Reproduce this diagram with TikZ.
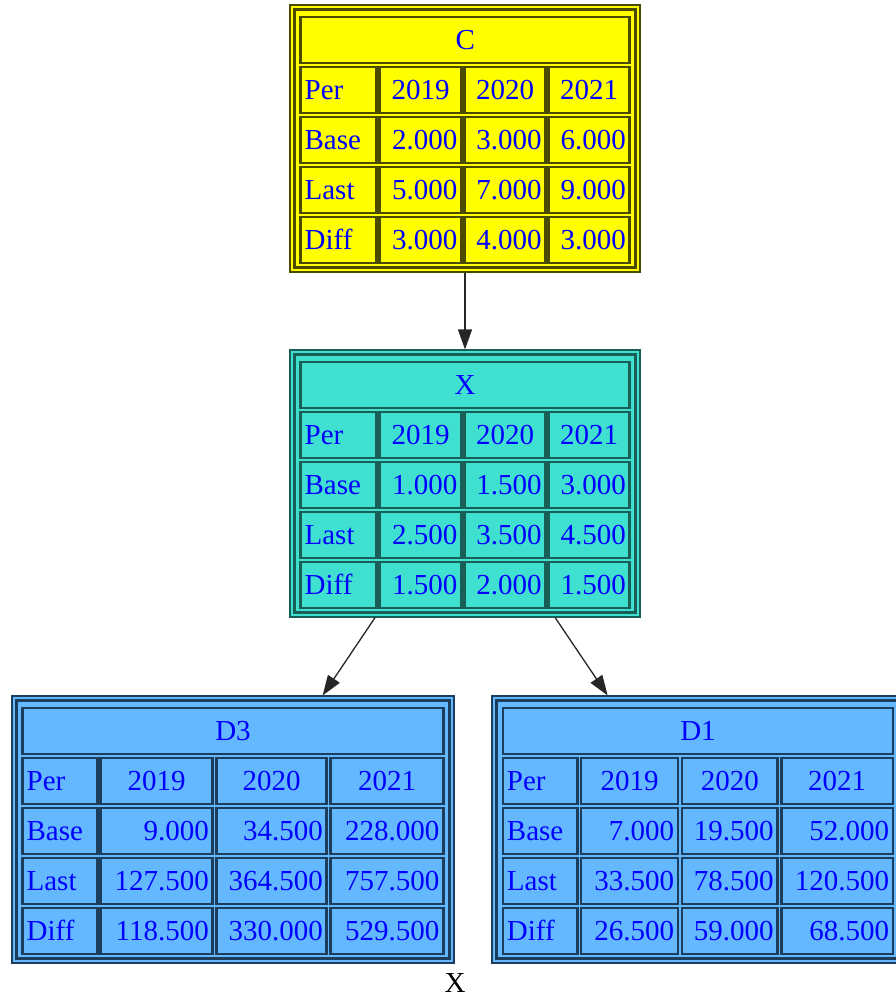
\documentclass[tikz,border=0pt]{standalone}
\usepackage{fontspec}
\setmainfont{Liberation Serif}
\usetikzlibrary{arrows.meta}

\definecolor{fillC}{HTML}{FFFF00}
\definecolor{edgeC}{HTML}{4A4A00}
\definecolor{fillX}{HTML}{40E0D0}
\definecolor{edgeX}{HTML}{1A5E58}
\definecolor{fillD}{HTML}{63B8FF}
\definecolor{edgeD}{HTML}{1D3D5C}
\definecolor{txtblue}{HTML}{0000FF}

\tikzset{
  tblbox/.style={rectangle, inner sep=0pt, line width=1.2pt, minimum height=267pt},
  cellbox/.style={rectangle, inner sep=0pt, line width=2.5pt, minimum height=46pt},
  celltext/.style={inner sep=0pt, text=txtblue, font=\fontsize{29}{34}\selectfont,
                   text height=19pt, text depth=0pt},
  edgearrow/.style={line width=1.3pt, draw=black!85, -{Triangle[length=20pt,width=14pt]}},
  glabel/.style={inner sep=0pt, text=black, font=\fontsize{29}{34}\selectfont}
}

% column bounds of the current table
\newcommand\gvcols[8]{\def\gvAl{#1}\def\gvAr{#2}\def\gvBl{#3}\def\gvBr{#4}%
  \def\gvCl{#5}\def\gvCr{#6}\def\gvDl{#7}\def\gvDr{#8}}
% colours of the current table
\def\gvfill{fillC}\def\gvedge{edgeC}

% one cell: name, left, right, top, text anchor, x offset, text
\newcommand\gvcell[7]{%
  \pgfmathsetmacro\gvw{#3-#2}%
  \pgfmathsetmacro\gvcx{(#2+#3)/2}%
  \pgfmathsetmacro\gvcy{#4+23}%
  \node[cellbox, fill=\gvfill, draw=\gvedge, minimum width=\gvw pt] (#1) at (\gvcx,\gvcy) {};
  \node[celltext, anchor=#5] (#1-t) at ([xshift=#6pt]#1.#5) {#7};
}

% one row: table, row tag, top, label, three values
\newcommand\gvrow[7]{%
  \gvcell{#1-#2-a}{\gvAl}{\gvAr}{#3}{west}{5}{#4}%
  \gvcell{#1-#2-b}{\gvBl}{\gvBr}{#3}{\gvalign}{\gvshift}{#5}%
  \gvcell{#1-#2-c}{\gvCl}{\gvCr}{#3}{\gvalign}{\gvshift}{#6}%
  \gvcell{#1-#2-d}{\gvDl}{\gvDr}{#3}{\gvalign}{\gvshift}{#7}%
}

% table frame with title: name, outer left, outer right, top, title
\newcommand\gvtable[5]{%
  \pgfmathsetmacro\gvw{#3-#2}%
  \pgfmathsetmacro\gvcx{(#2+#3)/2}%
  \pgfmathsetmacro\gvcy{#4+133.5}%
  \node[tblbox, fill=\gvfill, draw=\gvedge, minimum width=\gvw pt] (#1) at (\gvcx,\gvcy) {};
  \draw[\gvedge, line width=2.5pt] ([shift={(5,5)}]#1.north west) rectangle ([shift={(-5,-5)}]#1.south east);
  \pgfmathsetmacro\gvty{#4+12}%
  \gvcell{#1-title}{\gvAl}{\gvDr}{\gvty}{center}{0}{#5}%
}

% header row; data rows after it are right aligned
\newcommand\gvheader[2]{% table, top
  \def\gvalign{center}\def\gvshift{0}%
  \pgfmathsetmacro\gvry{#2+62}%
  \gvrow{#1}{per}{\gvry}{Per}{2019}{2020}{2021}%
  \def\gvalign{east}\def\gvshift{-5}%
}

\begin{document}
\begin{tikzpicture}[x=1pt, y=-1pt]
\path[use as bounding box] (0,0) rectangle (896,997);
\clip (0,0) rectangle (896,997);

% ---- C ----
\def\gvfill{fillC}\def\gvedge{edgeC}
\gvcols{300.7}{376.3}{379.7}{461.3}{464.5}{545.5}{548.7}{629.7}
\gvtable{C}{290}{640}{5}{C}
\gvheader{C}{5}
\gvrow{C}{base}{117}{Base}{2.000}{3.000}{6.000}
\gvrow{C}{last}{167}{Last}{5.000}{7.000}{9.000}
\gvrow{C}{diff}{217}{Diff}{3.000}{4.000}{3.000}

% ---- X ----
\def\gvfill{fillX}\def\gvedge{edgeX}
\gvtable{X}{290}{640}{350}{X}
\gvheader{X}{350}
\gvrow{X}{base}{462}{Base}{1.000}{1.500}{3.000}
\gvrow{X}{last}{512}{Last}{2.500}{3.500}{4.500}
\gvrow{X}{diff}{562}{Diff}{1.500}{2.000}{1.500}

% ---- D3 ----
\def\gvfill{fillD}\def\gvedge{edgeD}
\gvcols{22.7}{97.3}{100.7}{212.7}{216.7}{326.7}{330.7}{443.3}
\gvtable{D3}{12}{454}{696}{D3}
\gvheader{D3}{696}
\gvrow{D3}{base}{808}{Base}{9.000}{34.500}{228.000}
\gvrow{D3}{last}{858}{Last}{127.500}{364.500}{757.500}
\gvrow{D3}{diff}{908}{Diff}{118.500}{330.000}{529.500}

% ---- D1 ----
\gvcols{503}{577.3}{581}{678}{682}{777.5}{781.3}{893}
\gvtable{D1}{492}{903}{696}{D1}
\gvheader{D1}{696}
\gvrow{D1}{base}{808}{Base}{7.000}{19.500}{52.000}
\gvrow{D1}{last}{858}{Last}{33.500}{78.500}{120.500}
\gvrow{D1}{diff}{908}{Diff}{26.500}{59.000}{68.500}

% ---- edges ----
\draw[edgearrow] (C) -- (X);
\draw[edgearrow] (X) -- (D3);
\draw[edgearrow] (X) -- (D1);

% ---- graph label ----
\node[glabel] (graphlabel) at (455,983) {X};
\end{tikzpicture}
\end{document}
